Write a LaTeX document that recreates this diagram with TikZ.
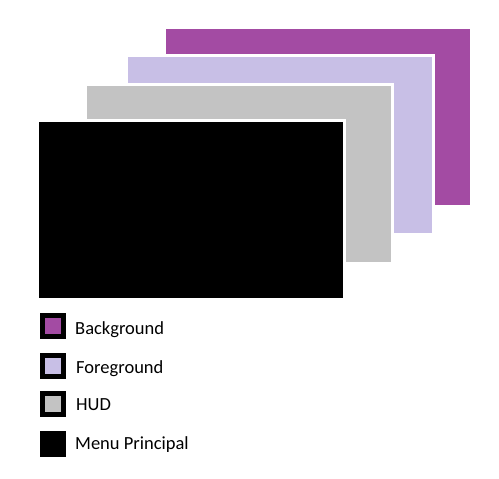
\documentclass[tikz,border=0pt]{standalone}
\usepackage{fontspec}
\setmainfont{Carlito}
\definecolor{bgpurple}{RGB}{163,75,163}
\definecolor{fglav}{RGB}{200,191,230}
\definecolor{hudgray}{RGB}{195,195,195}
\begin{document}
\begin{tikzpicture}[x=1pt,y=-1pt,
  layer/.style={rectangle,inner sep=0,minimum width=307pt,minimum height=179pt,draw=white,line width=3pt},
  swatch/.style={rectangle,inner sep=0,minimum size=21pt,draw=black,line width=5pt},
  lbl/.style={anchor=base west,inner sep=0,font=\fontsize{18.5}{20}\selectfont}]
\useasboundingbox[fill=white] (0,0) rectangle (499,479);
\node[layer,fill=bgpurple,draw=none,minimum width=304pt,minimum height=176pt] (bg) at (318,117) {};
\node[layer,fill=fglav] (fg) at (280,145) {};
\node[layer,fill=hudgray] (hud) at (239,174) {};
\node[layer,fill=black] (menu) at (191,210) {};
\node[swatch,fill=bgpurple] (s1) at (53,326) {};
\node[swatch,fill=fglav] (s2) at (53,365.5) {};
\node[swatch,fill=hudgray] (s3) at (53,404) {};
\node[swatch,fill=black] (s4) at (53,444) {};
\node[lbl] (t1) at (75,334.3) {Background};
\node[lbl] (t2) at (76,373.3) {Foreground};
\node[lbl] (t3) at (76,410) {HUD};
\node[lbl] (t4) at (75,449) {Menu Principal};
\end{tikzpicture}
\end{document}
